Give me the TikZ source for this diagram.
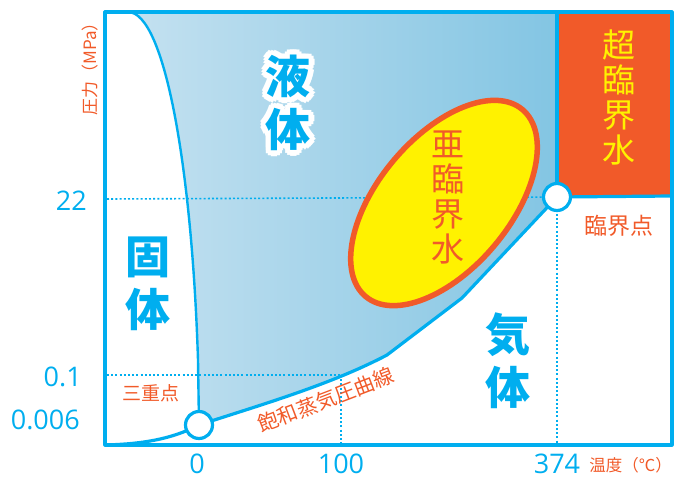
\documentclass[tikz,border=0pt]{standalone}
\usepackage{fontspec}
\newfontfamily\jp{Noto Sans CJK JP}
\newfontfamily\num{Open Sans}
\usetikzlibrary{shapes.geometric}
\definecolor{cblue}{RGB}{0,174,239}
\definecolor{corange}{RGB}{241,90,41}
\definecolor{cyellow}{RGB}{255,242,0}
\definecolor{lqL}{RGB}{196,225,240}
\definecolor{lqR}{RGB}{131,197,227}
\tikzset{
  curve/.style={draw=cblue, line width=3.2pt, line join=round},
  dotline/.style={draw=cblue, line width=1.6pt, dash pattern=on 2pt off 2.2pt},
  ptcircle/.style={circle, draw=cblue, fill=white, line width=3.2pt, minimum size=27pt, inner sep=0pt},
  numlabel/.style={font=\num\fontsize{27}{27}\selectfont, text=cblue, inner sep=0pt},
  phase/.style={font=\jp\bfseries\fontsize{45}{53}\selectfont, align=center, inner sep=0pt},
  waterlabel/.style={font=\jp\fontsize{33}{35}\selectfont, align=center, inner sep=0pt},
  olabel/.style={font=\jp, text=corange, inner sep=0pt},
}
\begin{document}
\begin{tikzpicture}[x=1pt,y=-1pt]
\useasboundingbox (0,0) rectangle (675,479);
\coordinate (tp) at (199,425);
\coordinate (cp) at (557,197);
\coordinate (p100) at (341,375);
% liquid region
\shade[left color=lqL, right color=lqR] (128,12) .. controls (165,12) and (192,170) .. (198,360) -- (tp) .. controls (260,405) and (330,385) .. (387,355) -- (462,298) -- (cp) -- (557,12) -- cycle;
% supercritical box
\fill[corange] (557,12) rectangle (672,196);
% dotted guide lines
\coordinate (a22) at (107,199);
\coordinate (a01) at (107,375);
\coordinate (b100) at (341,445);
\coordinate (b374) at (557,445);
\draw[dotline] (a22) -- (cp);
\draw[dotline] (a01) -- (p100);
\draw[dotline] (p100) -- (b100);
\draw[dotline] (cp) -- (b374);
% subcritical ellipse
\node[ellipse, draw=corange, fill=cyellow, line width=5.5pt, minimum width=244pt, minimum height=132pt, inner sep=0pt, rotate=50] (sub) at (444,203) {};
% curves
\draw[curve] (105,445) .. controls (140,444) and (170,440) .. (tp);
\draw[curve, line width=2.4pt] (128,12) .. controls (165,12) and (192,170) .. (198,360) -- (tp);
\draw[curve] (tp) .. controls (260,405) and (330,385) .. (387,355) -- (462,298) -- (cp);
\draw[curve] (cp) -- (557,12);
\draw[curve] (cp) -- (672,196);
\draw[curve] (105,12) rectangle (672,445);
% points
\node[ptcircle] (tpc) at (tp) {};
\node[ptcircle] (cpc) at (cp) {};
% phase labels
\foreach \a in {0,30,...,330} {
  \node[phase, text=white] at ([shift={(\a:5.5pt)}]288,103) {液\\体};
}
\node[phase, text=cblue] (liq) at (288,103) {液\\体};
\node[phase, text=cblue] (sol) at (148,284) {固\\体};
\node[phase, text=cblue] (gas) at (508,361) {気\\体};
\node[waterlabel, text=corange] (subt) at (448,198) {亜\\臨\\界\\水};
\node[waterlabel, text=cyellow] (supt) at (619,97) {超\\臨\\界\\水};
% other labels
\node[olabel, font=\jp\fontsize{23}{23}\selectfont] (cpl) at (619,226) {臨界点};
\node[olabel, font=\jp\fontsize{19}{19}\selectfont] (tpl) at (151,393) {三重点};
\node[olabel, font=\jp\fontsize{20.5}{20.5}\selectfont, rotate=21] (vpl) at (326,400) {飽和蒸気圧曲線};
\node[olabel, font=\jp\fontsize{17}{17}\selectfont, rotate=90] (yax) at (90,65) {圧力（MPa）};
\node[olabel, font=\jp\fontsize{16.5}{16.5}\selectfont, anchor=east] (xax) at (672,465) {温度（℃）};
% axis numbers
\node[numlabel, anchor=east] (l22) at (87,201) {22};
\node[numlabel, anchor=east] (l01) at (82,377) {0.1};
\node[numlabel, anchor=east] (l0006) at (80,420) {0.006};
\node[numlabel] (t0) at (197,464) {0};
\node[numlabel] (t100) at (341,464) {100};
\node[numlabel] (t374) at (557,464) {374};
\end{tikzpicture}
\end{document}
